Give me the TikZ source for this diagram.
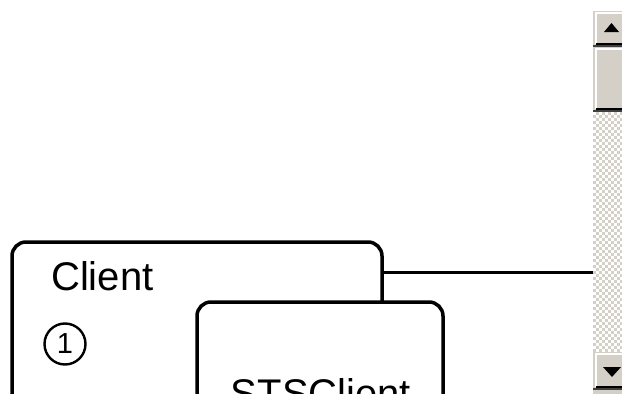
\documentclass[tikz,border=0pt]{standalone}
\usepackage{fontspec}
\setmainfont{Liberation Sans}
\definecolor{face}{HTML}{D4D0C8}
\definecolor{shade}{HTML}{808080}
\definecolor{darkline}{HTML}{404040}
\newcommand\sbbtn[4]{%
  \fill[face] (#1,#2) rectangle (#3,#4);
  \draw[white,line width=2pt] (#1+3,#4-3) -- (#1+3,#2+2) -- (#3,#2+2);
  \draw[shade,line width=2pt] (#1+3,#4-3) -- (#3,#4-3);
  \draw[darkline,line width=2pt] (#1,#4-1) -- (#3,#4-1);
}
\begin{document}
\begin{tikzpicture}[x=1pt,y=-1pt,
  box/.style={draw=black,line width=3.5pt,rounded corners=14pt,fill=white,inner sep=0,rectangle},
  big/.style={font=\fontsize{40}{48}\selectfont,inner sep=0},
  conn/.style={draw=black,line width=3pt}]
\useasboundingbox (0,0) rectangle (622,394);
\clip (0,0) rectangle (622,394);
\fill[white] (0,0) rectangle (622,394);

% scrollbar
\sbbtn{593}{11}{626}{47}
\sbbtn{593}{47}{626}{112}
\fill[white] (593,112) rectangle (626,352);
\foreach \r in {0,...,79}{
  \foreach \c in {0,...,10}{
    \pgfmathtruncatemacro\odd{mod(\r+\c,2)}
    \ifnum\odd=1
      \fill[face] (593+3*\c,112+3*\r) rectangle (596+3*\c,115+3*\r);
    \fi
  }
}
\sbbtn{593}{352}{626}{390}
\fill[face] (593,390) rectangle (626,394);
\fill[black] (604,32) -- (611.5,23) -- (619,32) -- cycle;
\fill[black] (603,367) -- (621,367) -- (612,377) -- cycle;
\node[inner sep=0,minimum width=33pt,minimum height=383pt] (sb) at (609.5,202.5) {};

% boxes
\node[box,minimum width=370pt,minimum height=220pt] (client) at (197,352) {};
\node[big,anchor=base west] (clienttxt) at (51,290) {Client};
\node[circle,draw=black,line width=2.4pt,minimum size=41pt,inner sep=0,font=\fontsize{29}{34}\selectfont] (one) at (65,344) {1};
\node[box,minimum width=246pt,minimum height=200pt] (sts) at (320,402) {};
\node[big,anchor=base] (ststxt) at (321,407) {STSClient};

% connector
\coordinate (cl) at (client.east |- 0,272);
\draw[conn] (cl) -- (sb.west |- cl);
\end{tikzpicture}
\end{document}
